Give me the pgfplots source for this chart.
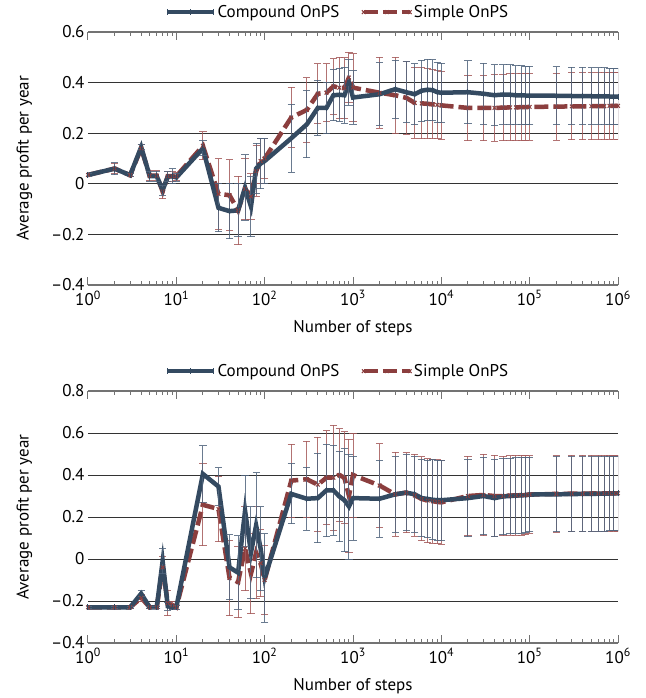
\documentclass[border=0pt]{standalone}
\usepackage{pgfplots}
\pgfplotsset{compat=1.18}
\usepackage{pgfplotstable}
\usepackage{fontspec}
\setmainfont{PT Sans}
\definecolor{cblue}{RGB}{52,74,97}
\definecolor{cred}{RGB}{139,62,62}
\definecolor{cbluebar}{RGB}{80,100,125}
\definecolor{credbar}{RGB}{165,90,90}

\pgfplotstableread{
x y e
1 0.035 0.005
2 0.060 0.024
3 0.034 0.005
4 0.145 0.010
5 0.030 0.020
6 0.030 0.020
7 -0.025 0.020
8 0.028 0.020
9 0.030 0.030
10 0.025 0.015
20 0.140 0.030
30 -0.095 0.095
40 -0.108 0.110
50 -0.105 0.105
60 -0.015 0.130
70 -0.090 0.120
80 0.060 0.100
90 0.080 0.100
100 0.090 0.090
200 0.180 0.135
300 0.235 0.133
400 0.300 0.110
500 0.300 0.100
600 0.350 0.100
700 0.352 0.105
800 0.350 0.110
900 0.400 0.090
1000 0.341 0.106
2000 0.354 0.125
3000 0.374 0.115
4000 0.362 0.120
5000 0.354 0.120
6000 0.368 0.120
7000 0.372 0.120
8000 0.370 0.120
9000 0.362 0.118
10000 0.360 0.117
20000 0.362 0.125
30000 0.356 0.120
40000 0.350 0.120
50000 0.353 0.118
60000 0.352 0.118
70000 0.350 0.117
80000 0.350 0.117
90000 0.349 0.116
100000 0.349 0.116
200000 0.348 0.114
300000 0.347 0.113
400000 0.347 0.113
500000 0.346 0.112
600000 0.346 0.112
700000 0.346 0.112
800000 0.345 0.111
900000 0.345 0.111
1000000 0.345 0.111
}\topC

\pgfplotstableread{
x y e
1 0.035 0.005
2 0.060 0.020
3 0.034 0.005
4 0.140 0.015
5 0.032 0.020
6 0.032 0.020
7 -0.030 0.030
8 0.030 0.020
9 0.030 0.020
10 0.030 0.015
20 0.150 0.055
30 -0.040 0.140
40 -0.045 0.140
50 -0.105 0.135
60 -0.020 0.120
70 -0.050 0.090
80 0.050 0.100
90 0.090 0.090
100 0.100 0.080
200 0.262 0.120
300 0.292 0.128
400 0.356 0.118
500 0.360 0.115
600 0.385 0.110
700 0.380 0.120
800 0.378 0.120
900 0.420 0.100
1000 0.380 0.135
2000 0.360 0.140
3000 0.350 0.150
4000 0.340 0.145
5000 0.320 0.140
6000 0.318 0.140
7000 0.316 0.138
8000 0.314 0.136
9000 0.312 0.134
10000 0.310 0.133
20000 0.300 0.130
30000 0.300 0.130
40000 0.300 0.131
50000 0.301 0.131
60000 0.302 0.132
70000 0.302 0.132
80000 0.303 0.132
90000 0.303 0.132
100000 0.304 0.132
200000 0.305 0.132
300000 0.306 0.132
400000 0.306 0.132
500000 0.307 0.132
600000 0.307 0.132
700000 0.307 0.132
800000 0.308 0.132
900000 0.308 0.132
1000000 0.308 0.132
}\topS

\pgfplotstableread{
x y e
1 -0.230 0.004
2 -0.230 0.004
3 -0.230 0.004
4 -0.165 0.015
5 -0.230 0.005
6 -0.230 0.005
7 -0.010 0.060
8 -0.225 0.020
9 -0.230 0.010
10 -0.230 0.010
20 0.405 0.135
30 0.345 0.090
40 -0.040 0.155
50 -0.065 0.175
60 0.230 0.170
70 0.030 0.220
80 0.160 0.250
90 0.050 0.200
100 -0.090 0.210
200 0.310 0.143
300 0.287 0.150
400 0.290 0.213
500 0.327 0.220
600 0.327 0.215
700 0.298 0.215
800 0.280 0.245
900 0.250 0.250
1000 0.290 0.200
2000 0.287 0.183
3000 0.308 0.180
4000 0.316 0.180
5000 0.308 0.180
6000 0.290 0.185
7000 0.286 0.185
8000 0.282 0.190
9000 0.280 0.190
10000 0.280 0.190
20000 0.290 0.185
30000 0.300 0.185
40000 0.290 0.185
50000 0.298 0.182
60000 0.300 0.180
70000 0.302 0.180
80000 0.303 0.180
90000 0.304 0.180
100000 0.307 0.177
200000 0.308 0.178
300000 0.309 0.178
400000 0.310 0.178
500000 0.310 0.178
600000 0.311 0.178
700000 0.311 0.178
800000 0.312 0.178
900000 0.312 0.178
1000000 0.312 0.178
}\botC

\pgfplotstableread{
x y e
1 -0.230 0.005
2 -0.230 0.005
3 -0.230 0.005
4 -0.185 0.015
5 -0.230 0.005
6 -0.230 0.005
7 -0.040 0.050
8 -0.210 0.060
9 -0.220 0.020
10 -0.230 0.010
20 0.258 0.195
30 0.238 0.155
40 -0.090 0.180
50 -0.110 0.170
60 0.050 0.200
70 -0.070 0.190
80 0.030 0.220
90 -0.020 0.160
100 -0.100 0.165
200 0.373 0.173
300 0.380 0.180
400 0.354 0.225
500 0.387 0.223
600 0.387 0.250
700 0.400 0.220
800 0.387 0.220
900 0.300 0.270
1000 0.400 0.200
2000 0.350 0.200
3000 0.308 0.200
4000 0.316 0.190
5000 0.303 0.195
6000 0.286 0.200
7000 0.278 0.200
8000 0.275 0.200
9000 0.272 0.200
10000 0.270 0.200
20000 0.300 0.190
30000 0.305 0.195
40000 0.300 0.195
50000 0.300 0.190
60000 0.302 0.190
70000 0.303 0.190
80000 0.304 0.190
90000 0.305 0.190
100000 0.307 0.185
200000 0.310 0.182
300000 0.311 0.182
400000 0.311 0.182
500000 0.312 0.182
600000 0.312 0.182
700000 0.313 0.182
800000 0.313 0.182
900000 0.313 0.182
1000000 0.313 0.182
}\botS

\newcommand\myfont{\fontsize{17bp}{20bp}\selectfont}
\pgfplotsset{
  every axis/.append style={
    scale only axis,
    width=530bp,
    xmin=1, xmax=1000000,
    xtick={1,10,100,1000,10000,100000,1000000},
    xticklabels={10\textsuperscript{0},10\textsuperscript{1},10\textsuperscript{2},10\textsuperscript{3},10\textsuperscript{4},10\textsuperscript{5},10\textsuperscript{6}},
    minor xtick={2,3,4,5,6,7,8,9,20,30,40,50,60,70,80,90,200,300,400,500,600,700,800,900,2000,3000,4000,5000,6000,7000,8000,9000,20000,30000,40000,50000,60000,70000,80000,90000,200000,300000,400000,500000,600000,700000,800000,900000},
    separate axis lines,
    x axis line style={draw=black!55, line width=1.2bp},
    y axis line style={draw=none},
    ytick style={draw=none},
    xtick style={draw=black!55, line width=1bp},
    tick align=inside,
    major tick length=8bp, minor tick length=4bp,
    ymajorgrids,
    major grid style={black!80, line width=0.9bp},
    tick label style={font=\myfont},
    xticklabel style={yshift=-2bp},
    label style={font=\myfont},
    xlabel={Number of steps},
    ylabel={Average profit per year},
    xlabel style={yshift=-8bp},
    ylabel style={yshift=12bp},
    legend columns=2,
    legend cell align=left,
    legend style={at={(0.471,1.035)}, anchor=south, draw=none, fill=none, font=\myfont,
      /tikz/every even column/.append style={column sep=20bp}},
  },
  legend image code/.code={\draw[#1] plot coordinates {(0bp,0bp) (23bp,0bp) (46bp,0bp)};},
}

\begin{document}
\begin{tikzpicture}
\path[use as bounding box] (-88bp,32bp) rectangle (558bp,-666bp);
\begin{semilogxaxis}[at={(0bp,0bp)}, anchor=north west, height=253bp,
  ymin=-0.4, ymax=0.6, ytick={-0.4,-0.2,0,0.2,0.4,0.6},
  yticklabels={{–0.4},{–0.2},0,0.2,0.4,0.6}]
\addlegendimage{color=cblue, line width=4.5bp, mark=|, mark size=3bp, mark options={solid, line width=1bp}}
\addlegendentry{Compound OnPS}
\addlegendimage{color=cred, line width=4.5bp, dash pattern=on 14bp off 5bp, mark=x, mark size=2.6bp, mark options={solid, line width=1bp}}
\addlegendentry{Simple OnPS}
\addplot[color=cred, line width=4.5bp, dash pattern=on 14bp off 5bp, mark=x, mark size=2.6bp,
  mark options={solid, line width=1bp}, forget plot,
  error bars/.cd, y dir=both, y explicit,
  error bar style={line width=1bp, solid, credbar, opacity=0.85},
  error mark options={rotate=90, mark size=3.6bp, line width=1bp, solid, credbar, opacity=0.85}]
  table[x=x, y=y, y error=e] {\topS};
\addplot[color=cblue, line width=4.5bp, mark=|, mark size=3bp,
  mark options={solid, line width=1bp}, forget plot,
  error bars/.cd, y dir=both, y explicit,
  error bar style={line width=1bp, cbluebar, opacity=0.85},
  error mark options={rotate=90, mark size=3.6bp, line width=1bp, cbluebar, opacity=0.85}]
  table[x=x, y=y, y error=e] {\topC};
\end{semilogxaxis}
\begin{semilogxaxis}[at={(0bp,-359bp)}, anchor=north west, height=252bp,
  ymin=-0.4, ymax=0.8, ytick={-0.4,-0.2,0,0.2,0.4,0.6,0.8},
  yticklabels={{–0.4},{–0.2},0,0.2,0.4,0.6,0.8}]
\addlegendimage{color=cblue, line width=4.5bp, mark=|, mark size=3bp, mark options={solid, line width=1bp}}
\addlegendentry{Compound OnPS}
\addlegendimage{color=cred, line width=4.5bp, dash pattern=on 14bp off 5bp, mark=x, mark size=2.6bp, mark options={solid, line width=1bp}}
\addlegendentry{Simple OnPS}
\addplot[color=cred, line width=4.5bp, dash pattern=on 14bp off 5bp, mark=x, mark size=2.6bp,
  mark options={solid, line width=1bp}, forget plot,
  error bars/.cd, y dir=both, y explicit,
  error bar style={line width=1bp, solid, credbar, opacity=0.85},
  error mark options={rotate=90, mark size=3.6bp, line width=1bp, solid, credbar, opacity=0.85}]
  table[x=x, y=y, y error=e] {\botS};
\addplot[color=cblue, line width=4.5bp, mark=|, mark size=3bp,
  mark options={solid, line width=1bp}, forget plot,
  error bars/.cd, y dir=both, y explicit,
  error bar style={line width=1bp, cbluebar, opacity=0.85},
  error mark options={rotate=90, mark size=3.6bp, line width=1bp, cbluebar, opacity=0.85}]
  table[x=x, y=y, y error=e] {\botC};
\end{semilogxaxis}
\end{tikzpicture}
\end{document}
